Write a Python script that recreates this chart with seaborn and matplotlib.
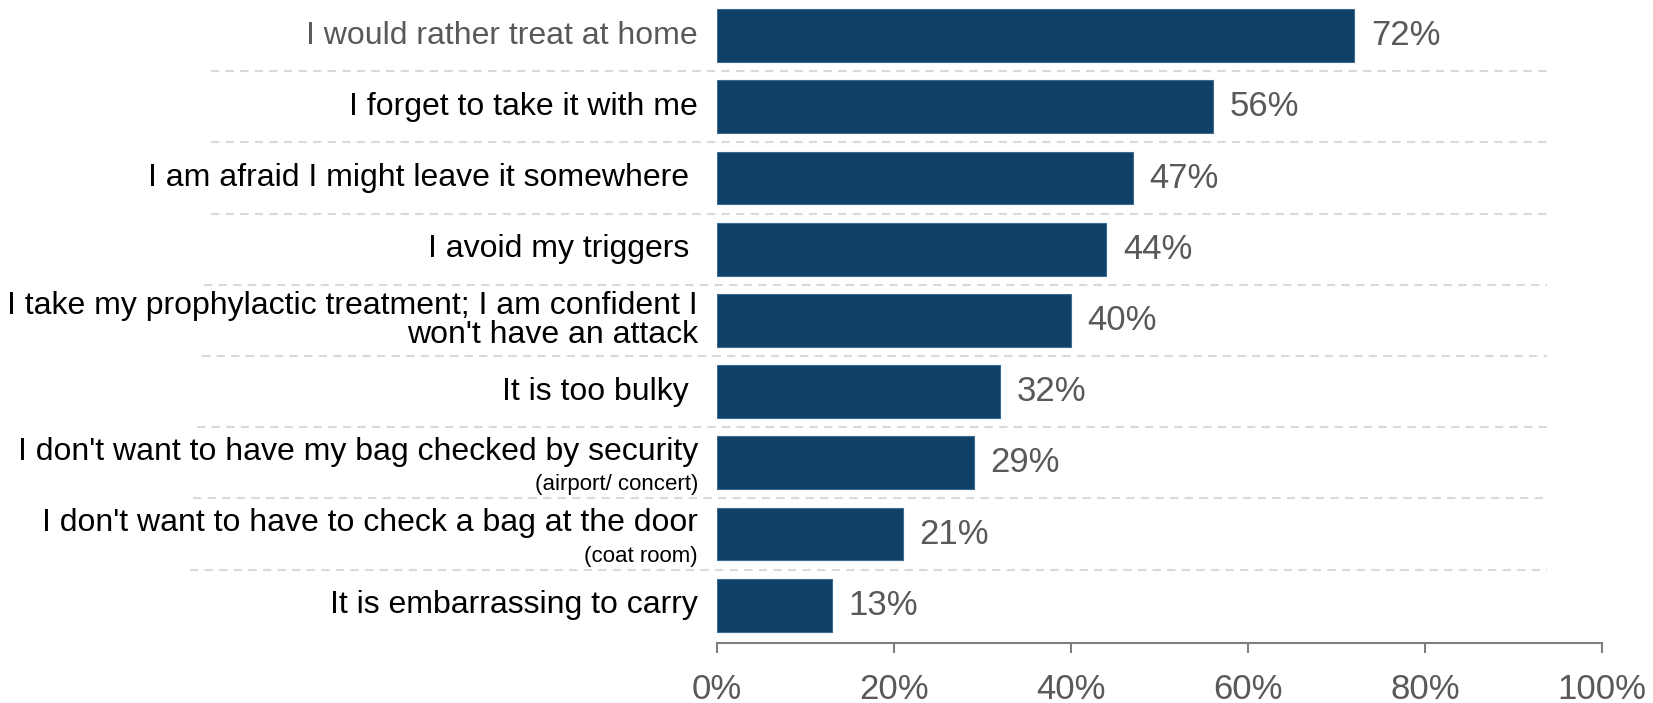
import matplotlib
matplotlib.use("Agg")
import matplotlib.pyplot as plt
import matplotlib.transforms as mtrans
from matplotlib import font_manager as fm
from matplotlib.lines import Line2D
import seaborn as sns
import pandas as pd

# ---- data ----
categories = [
    "I would rather treat at home",
    "I forget to take it with me",
    "I am afraid I might leave it somewhere ",
    "I avoid my triggers ",
    "I take my prophylactic treatment; I am confident I\nwon't have an attack",
    "It is too bulky ",
    "I don't want to have my bag checked by security",
    "I don't want to have to check a bag at the door",
    "It is embarrassing to carry",
]
sub_labels = ["", "", "", "", "", "", "(airport/ concert)", "(coat room)", ""]
values = [72, 56, 47, 44, 40, 32, 29, 21, 13]
xticks = [0, 20, 40, 60, 80, 100]
xtick_labels = ["0%", "20%", "40%", "60%", "80%", "100%"]

# ---- style ----
sns.set_theme(style="white")
plt.rcParams["font.family"] = ["Liberation Sans", "DejaVu Sans"]

have_narrow = any(f.name == "Liberation Sans Narrow" for f in fm.fontManager.ttflist)
if have_narrow:
    LAB_FONT = ["Liberation Sans Narrow", "Liberation Sans", "DejaVu Sans"]
    LAB_SIZE, SUB_SIZE, TICK_SIZE = 26.5, 18.5, 28.5
else:
    LAB_FONT = ["Liberation Sans", "DejaVu Sans"]
    LAB_SIZE, SUB_SIZE, TICK_SIZE = 23, 16, 25

BAR = "#0f4068"
GRAY_TXT = "#595959"
AXIS = "#7f7f7f"
W, H = 1653, 703

fig = plt.figure(figsize=(W / 100, H / 100), dpi=100)
ax = fig.add_axes([717 / W, 60 / H, 885 / W, 643 / H])

df = pd.DataFrame({"cat": [f"r{i}" for i in range(len(values))], "val": values})
sns.barplot(data=df, x="val", y="cat", orient="h", color=BAR, width=0.74,
            saturation=1, ax=ax, errorbar=None, edgecolor="#3d6a8f", linewidth=0.8)

ax.set_xlim(0, 100)
ax.set_ylim(8.53, -0.5)
ax.set_xlabel("")
ax.set_ylabel("")
ax.set_yticks([])
ax.set_xticks(xticks)
ax.set_xticklabels(xtick_labels, family=LAB_FONT)
ax.tick_params(axis="x", direction="out", length=7.5, width=1.5, color=AXIS,
               labelsize=TICK_SIZE, labelcolor=GRAY_TXT, pad=14, bottom=True)
for s in ["top", "right", "left"]:
    ax.spines[s].set_visible(False)
ax.spines["bottom"].set_color(AXIS)
ax.spines["bottom"].set_linewidth(1.5)

# value labels
ax.bar_label(ax.containers[0], labels=[f"{v}%" for v in values], padding=12,
             fontsize=25, color=GRAY_TXT)

# category labels
base = mtrans.blended_transform_factory(ax.transAxes, ax.transData)
lx = -19 / 885
def px(dy):
    return mtrans.offset_copy(base, fig=fig, x=0, y=-dy * 0.72, units="points")

for i, (lab, sub) in enumerate(zip(categories, sub_labels)):
    col = GRAY_TXT if i == 0 else "black"
    kw = dict(ha="right", va="center", color=col, family=LAB_FONT)
    if "\n" in lab:
        l1, l2 = lab.split("\n")
        ax.text(lx, i, l1, transform=px(-14), fontsize=LAB_SIZE, **kw)
        ax.text(lx, i, l2, transform=px(15), fontsize=LAB_SIZE, **kw)
    elif sub:
        ax.text(lx, i, lab, transform=px(-11), fontsize=LAB_SIZE, **kw)
        ax.text(lx, i, sub, transform=px(22), fontsize=SUB_SIZE, **kw)
    else:
        ax.text(lx, i, lab, transform=px(0), fontsize=LAB_SIZE, **kw)

# dashed separators
sep_left = [211, 211, 211, 204, 202, 197, 193, 190]
sep_trans = mtrans.blended_transform_factory(fig.transFigure, ax.transData)
for i, xl in enumerate(sep_left):
    ln = Line2D([xl / W, 1547 / W], [i + 0.5, i + 0.5], transform=sep_trans,
                color="#d9d9d9", lw=1.5, linestyle=(0, (4, 3)), clip_on=False)
    fig.add_artist(ln)

fig.savefig("out.png", dpi=100)
